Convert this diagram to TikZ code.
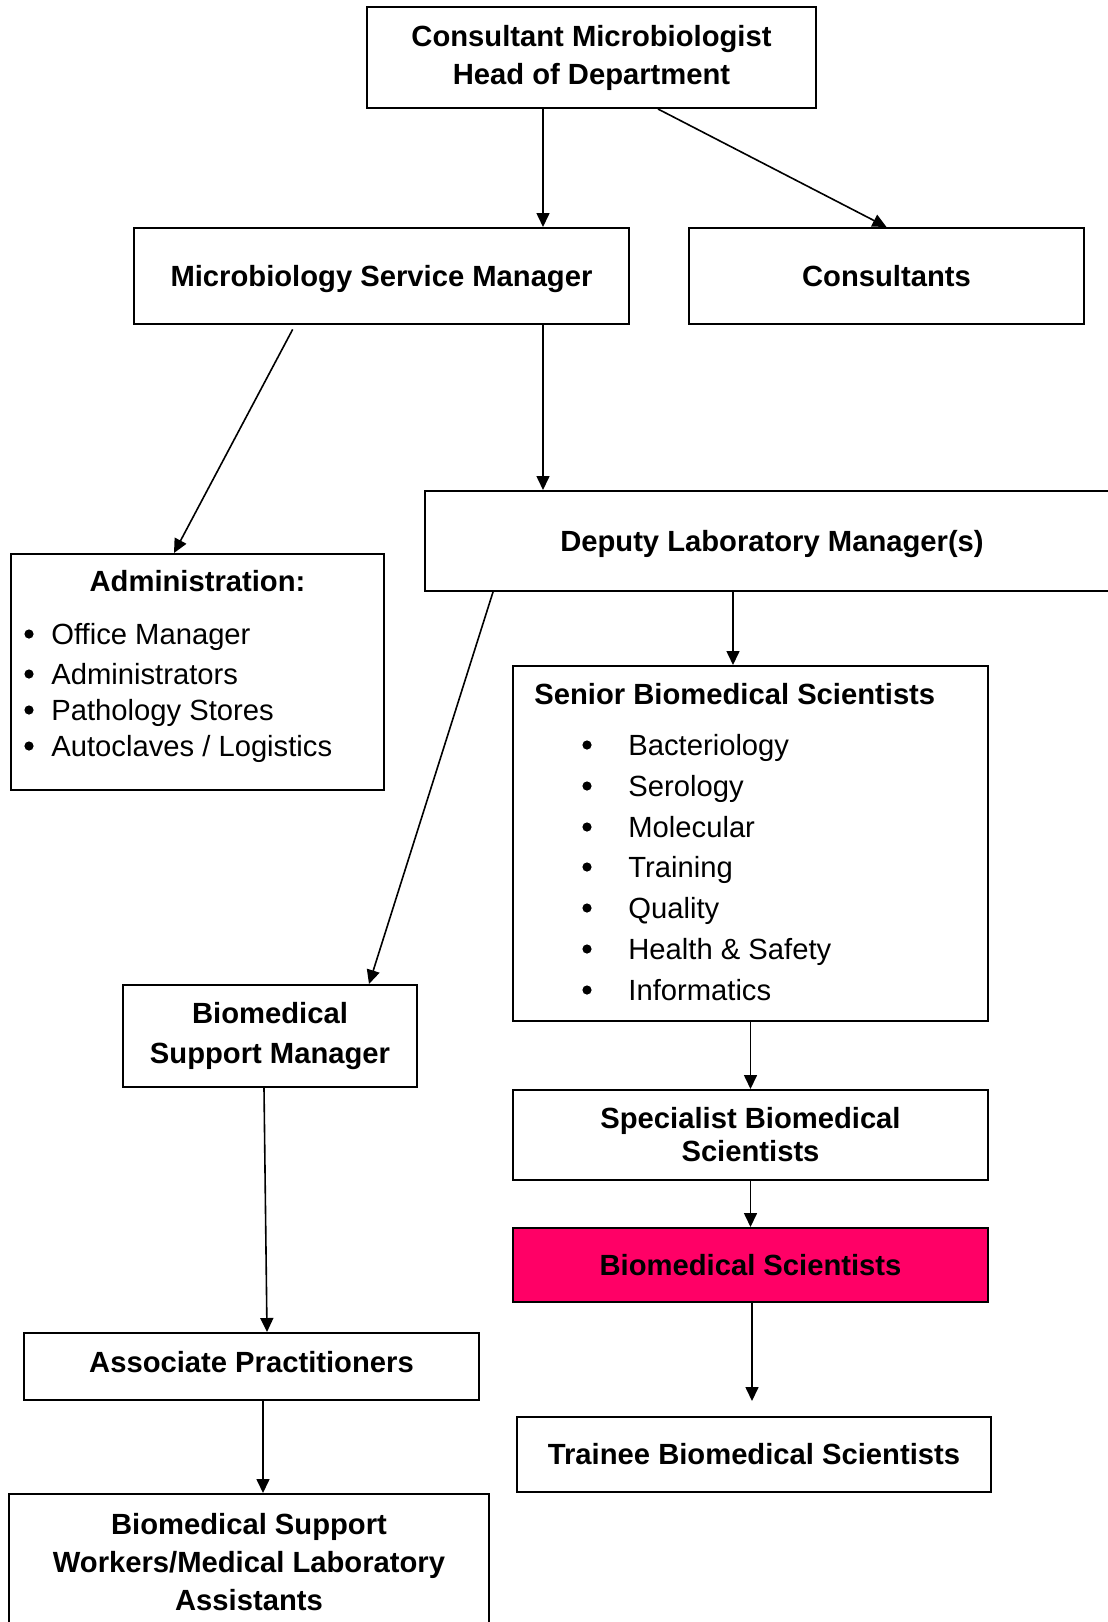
\documentclass[tikz,border=0pt]{standalone}
\usepackage{fontspec}
\setmainfont{Liberation Sans}
\usetikzlibrary{arrows.meta}
\definecolor{bmspink}{HTML}{FF0066}
\begin{document}
\begin{tikzpicture}[x=0.5pt,y=-0.5pt,
  box/.style={draw, line width=1pt, inner sep=0pt, align=center,
    font=\fontsize{14.6}{19}\selectfont\bfseries},
  one/.style={text height=10.45pt, text depth=0pt},
  arr/.style={line width=0.8pt, -{Triangle[length=7pt,width=6.5pt]}},
  itemtxt/.style={anchor=base west, inner sep=0pt, font=\fontsize{14.6}{19}\selectfont},
  dot/.style={circle, fill, inner sep=0pt, minimum size=4.6pt},
  ttl/.style={anchor=base, inner sep=0pt, font=\fontsize{14.6}{19}\selectfont\bfseries}]
\fill[white] (0,0) rectangle (1108,1622);
\useasboundingbox (0,0) rectangle (1108,1622);

% boxes
\node[box, minimum width=224.5pt, minimum height=50.5pt] (top) at (591.5,57.5)
  {Consultant Microbiologist\\Head of Department};
\node[box, one, minimum width=247.5pt, minimum height=48pt] (msm) at (381.5,276)
  {Microbiology Service Manager};
\node[box, one, minimum width=197.5pt, minimum height=48pt] (cons) at (886.5,276)
  {Consultants};
\node[box, one, minimum width=347pt, minimum height=50pt] (dep) at (772,541)
  {Deputy Laboratory Manager(s)};
\node[box, minimum width=186.5pt, minimum height=118pt] (admin) at (197.5,672) {};
\node[box, minimum width=237.5pt, minimum height=177.5pt] (senior) at (750.5,843.5) {};
\node[box, minimum width=147pt, minimum height=51pt] (bsm) at (270,1036)
  {Biomedical\\[1pt]Support Manager};
\node[box, minimum width=237.5pt, minimum height=45pt] (spec) at (750.5,1135)
  {Specialist Biomedical\\[-2.5pt]Scientists};
\node[box, one, fill=bmspink, minimum width=237.5pt, minimum height=37pt] (bms) at (750.5,1265)
  {Biomedical Scientists};
\node[box, one, minimum width=237pt, minimum height=37.5pt] (trainee) at (754,1454.5)
  {Trainee Biomedical Scientists};
\node[box, one, text depth=4pt, minimum width=227.5pt, minimum height=33.5pt] (ap) at (251.5,1366.5)
  {Associate Practitioners};
\node[box, minimum width=240pt, minimum height=68pt] (bsw) at (249,1562)
  {Biomedical Support\\Workers/Medical Laboratory\\Assistants};

% administration contents
\node[ttl] (admtitle) at (197.5,591) {Administration:};
\foreach \y/\t [count=\i] in {644/{Office Manager}, 684/{Administrators}, 720/{Pathology Stores}, 756/{Autoclaves / Logistics}}{
  \node[dot] (ab\i) at (29,\y-10) {};
  \node[itemtxt] (ai\i) at (51,\y) {\t};
}

% senior contents
\node[ttl, anchor=base west] (sentitle) at (534,704) {Senior Biomedical Scientists};
\foreach \y/\t [count=\i] in {755/{Bacteriology}, 796/{Serology}, 837/{Molecular}, 877/{Training}, 918/{Quality}, 959/{Health \& Safety}, 1000/{Informatics}}{
  \node[dot] (sb\i) at (587,\y-10) {};
  \node[itemtxt] (si\i) at (628,\y) {\t};
}

% helper x positions
\coordinate (x543) at (543,0);
\coordinate (x658) at (658,0);
\coordinate (x295) at (295,0);
\coordinate (x174) at (174,0);
\coordinate (x733) at (733,0);
\coordinate (x493) at (493,0);
\coordinate (x369) at (369,0);
\coordinate (x752) at (752,0);
\coordinate (x264) at (264,0);
\coordinate (x267) at (267,0);
\coordinate (x263) at (263,0);

% connectors
\draw[arr] (top.south -| x543) -- (msm.north -| x543);
\draw[arr] (top.south -| x658) -- (cons.north);
\draw[arr, shorten <=2.5pt] (msm.south -| x295) -- (admin.north -| x174);
\draw[arr] (msm.south -| x543) -- (dep.north -| x543);
\draw[arr] (dep.south -| x733) -- (senior.north -| x733);
\draw[arr] (dep.south -| x493) -- (bsm.north -| x369);
\draw[arr] (senior.south) -- (spec.north);
\draw[arr] (spec.south) -- (bms.north);
\draw[arr, shorten >=7.5pt] (bms.south -| x752) -- (trainee.north -| x752);
\draw[arr] (bsm.south -| x264) -- (ap.north -| x267);
\draw[arr] (ap.south -| x263) -- (bsw.north -| x263);
\end{tikzpicture}
\end{document}
